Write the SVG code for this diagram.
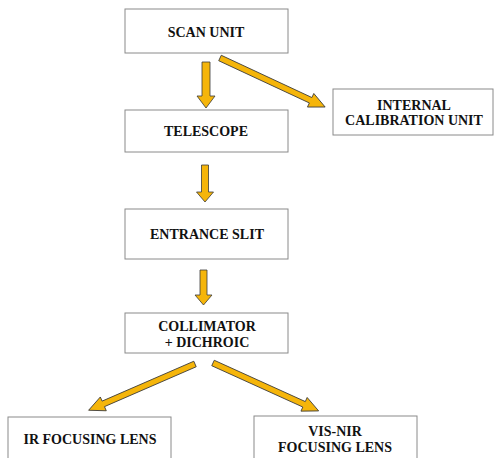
<svg xmlns="http://www.w3.org/2000/svg" width="495" height="458" viewBox="0 0 495 458">
<style>
.box{fill:#ffffff;stroke:#8a8a8a;stroke-width:1}
.t{font-family:"Liberation Serif","Times New Roman",serif;font-weight:bold;font-size:14px;fill:#111;text-anchor:middle}
.arr{fill:#F5B50A;stroke:#3a3a3a;stroke-width:0.8;stroke-linejoin:miter}
</style>
<rect width="495" height="458" fill="#ffffff"/>
<g id="connectors">
<path class="arr" transform="translate(206,62) rotate(90)" d="M0,-4 L34,-4 L34,-9 L46,0 L34,9 L34,4 L0,4Z"/>
<path class="arr" transform="translate(220,58) rotate(25)" d="M0,-3 L100,-3 L100,-7.5 L116,0 L100,7.5 L100,3 L0,3Z"/>
<path class="arr" transform="translate(205,165) rotate(90)" d="M0,-3.5 L27,-3.5 L27,-8.5 L37,0 L27,8.5 L27,3.5 L0,3.5Z"/>
<path class="arr" transform="translate(203.5,270) rotate(90)" d="M0,-3.5 L25,-3.5 L25,-8.5 L35,0 L25,8.5 L25,3.5 L0,3.5Z"/>
<path class="arr" transform="translate(195,364) rotate(156.5)" d="M0,-3 L100,-3 L100,-7.5 L116,0 L100,7.5 L100,3 L0,3Z"/>
<path class="arr" transform="translate(213,363) rotate(24.4)" d="M0,-3 L100,-3 L100,-7.5 L116,0 L100,7.5 L100,3 L0,3Z"/>
</g>
<g id="scan-unit">
<rect class="box" x="125" y="9" width="163" height="44"/>
<text class="t" x="206" y="37">SCAN UNIT</text>
</g>
<g id="telescope">
<rect class="box" x="125" y="110" width="163" height="42"/>
<text class="t" x="206" y="136">TELESCOPE</text>
</g>
<g id="internal-calibration-unit">
<rect class="box" x="333" y="89" width="160" height="46"/>
<text class="t" x="414" y="110">INTERNAL</text>
<text class="t" x="414" y="125">CALIBRATION UNIT</text>
</g>
<g id="entrance-slit">
<rect class="box" x="125" y="209" width="163" height="50"/>
<text class="t" x="207" y="239">ENTRANCE SLIT</text>
</g>
<g id="collimator-dichroic">
<rect class="box" x="125" y="313" width="163" height="40"/>
<text class="t" x="207" y="331">COLLIMATOR</text>
<text class="t" x="207" y="347">+ DICHROIC</text>
</g>
<g id="ir-focusing-lens">
<rect class="box" x="8" y="417" width="163" height="60"/>
<text class="t" x="90" y="444">IR FOCUSING LENS</text>
</g>
<g id="vis-nir-focusing-lens">
<rect class="box" x="254" y="416" width="163" height="60"/>
<text class="t" x="335" y="436">VIS-NIR</text>
<text class="t" x="335" y="452">FOCUSING LENS</text>
</g>
</svg>
